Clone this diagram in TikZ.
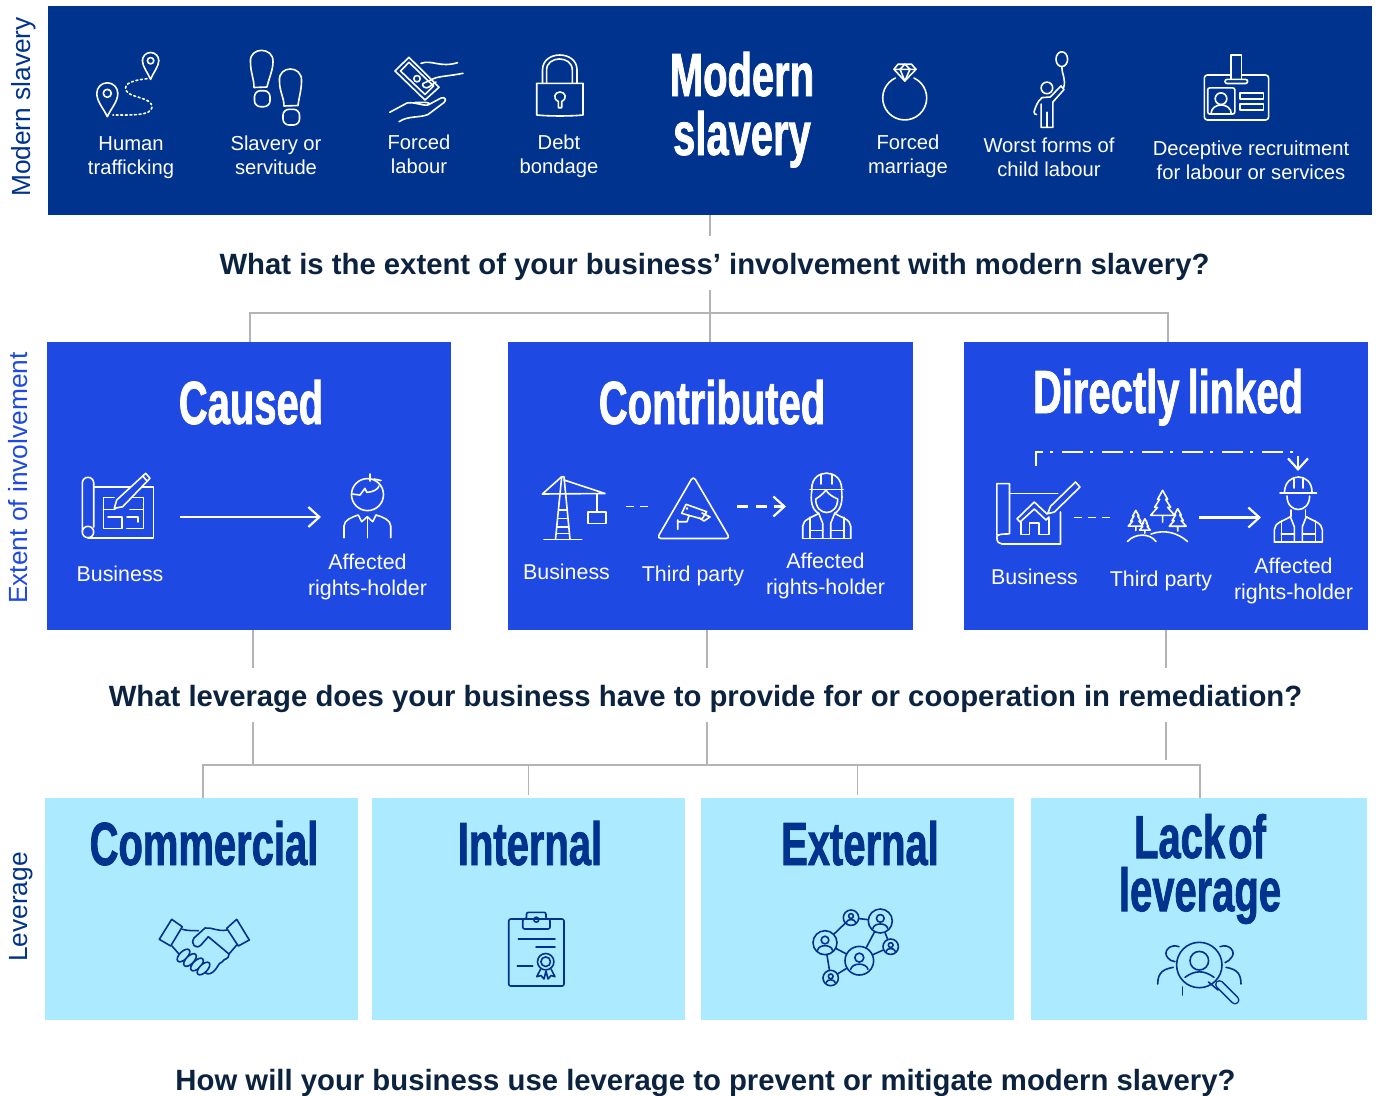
\documentclass[tikz,border=0pt]{standalone}
\usepackage{fontspec}
\setmainfont{Liberation Sans}
\newfontfamily\titlefont[FakeStretch=0.655,BoldFeatures={FakeBold=1.2}]{Liberation Sans}
\usetikzlibrary{arrows.meta}

\definecolor{navy}{HTML}{00338D}
\definecolor{royal}{HTML}{1E49E2}
\definecolor{pale}{HTML}{ACEAFF}
\definecolor{ink}{HTML}{0C233F}
\definecolor{rule}{HTML}{B4B4B4}

\tikzset{
  panel/.style={anchor=north west, inner sep=0pt, outer sep=0pt},
  itemtext/.style={text=white, align=center, inner sep=0pt, font=\fontsize{20.2}{24.2}\selectfont},
  flowtext/.style={text=white, align=center, inner sep=0pt, font=\fontsize{21.4}{26.4}\selectfont},
  bigtitle/.style={anchor=base, inner sep=0pt, font=\titlefont\bfseries\fontsize{61}{53}\selectfont},
  question/.style={fill=white, text=ink, inner sep=0pt, text height=33pt, text depth=10pt, minimum height=54pt, font=\bfseries\fontsize{29.3}{34}\selectfont},
  sidetext/.style={rotate=90, inner sep=0pt, font=\fontsize{26.3}{30}\selectfont},
  link/.style={draw=rule, line width=1.2pt},
  iconw/.style={draw=white, line width=1.6pt, line join=round, line cap=round},
  icond/.style={draw=navy, line width=1.6pt, line join=round, line cap=round},
  flowarrow/.style={draw=white, line width=2.2pt, -{Straight Barb[length=11pt,width=20pt]}},
  flowdash/.style={draw=white, line width=1.7pt, dash pattern=on 8pt off 6pt},
  pics/worker/.style={code={
    % body and vest, origin at the bottom middle
    \draw[iconw] (-24,0) -- (-24,-12) .. controls (-24,-19) and (-14,-21) .. (-8,-25) -- (-4,-15) -- (-4,0);
    \draw[iconw] (24,0) -- (24,-12) .. controls (24,-19) and (14,-21) .. (8,-25) -- (4,-15) -- (4,0);
    \draw[iconw] (-24,0) -- (24,0) (-17,0) -- (-17,-21) (17,0) -- (17,-21);
    \draw[iconw] (-17,-8) -- (-4,-8) (4,-8) -- (17,-8);
  }},
  pics/tree/.style={code={
    \draw[iconw, fill=royal] (0,0) -- (-5,9) -- (-3,9) -- (-8,17) -- (-5,17) -- (-12,25) -- (12,25)
      -- (5,17) -- (8,17) -- (3,9) -- (5,9) -- cycle (0,25) -- (0,32);
  }},
  pics/netperson/.style={code={
    \draw[icond] (0,-#1*0.22) circle [radius=#1*0.32];
    \draw[icond] (-#1*0.62,#1*0.62) .. controls (-#1*0.5,#1*0.12) and (#1*0.5,#1*0.12) .. (#1*0.62,#1*0.62);
  }},
}

\begin{document}
\begin{tikzpicture}[x=1pt,y=-1pt]
\useasboundingbox (0,0) rectangle (1376,1095);

% Panels
\node[panel, fill=navy, minimum width=1324pt, minimum height=209pt] (slavery) at (48,6) {};
\node[panel, fill=royal, minimum width=404pt, minimum height=288pt] (caused) at (47,342) {};
\node[panel, fill=royal, minimum width=405pt, minimum height=288pt] (contrib) at (508,342) {};
\node[panel, fill=royal, minimum width=404pt, minimum height=288pt] (direct) at (964,342) {};
\node[panel, fill=pale, minimum width=313pt, minimum height=222pt] (commercial) at (45,798) {};
\node[panel, fill=pale, minimum width=313pt, minimum height=222pt] (internal) at (372,798) {};
\node[panel, fill=pale, minimum width=313pt, minimum height=222pt] (external) at (701,798) {};
\node[panel, fill=pale, minimum width=336pt, minimum height=222pt] (lack) at (1031,798) {};

% Grey tree lines
\coordinate (busa) at (710,313);
\coordinate (busb) at (707,765);
\draw[link] (slavery.south) -- (slavery.south |- contrib.north);
\draw[link] ([xshift=1pt]caused.north) |- (busa);
\draw[link] ([xshift=2pt]direct.north) |- (busa);
\draw[link] ([xshift=4pt]caused.south) -- ++(0,135);
\draw[link] ([xshift=-3.5pt]contrib.south) -- (busb);
\draw[link] (direct.south) -- ++(0,130);
\draw[link] ([xshift=1.5pt]commercial.north) |- (busb);
\draw[link] ([xshift=1pt]lack.north) |- (busb);
\draw[link] ([yshift=3pt]internal.north) -- ([yshift=33pt]internal.north);
\draw[link] ([yshift=3pt]external.north) -- ([yshift=33pt]external.north);

% Questions
\node[question] (qone) at (714.5,263) {What is the extent of your business’ involvement with modern slavery?};
\node[question] (qtwo) at (705.5,695) {What leverage does your business have to provide for or cooperation in remediation?};
\node[question, minimum height=0pt] (qthree) at (705.5,1079) {How will your business use leverage to prevent or mitigate modern slavery?};

% Side labels
\node[sidetext, text=navy] (sidea) at (24,107) {Modern slavery};
\node[sidetext, text=royal] (sideb) at (18,478) {Extent of involvement};
\node[sidetext, text=navy] (sidec) at (21,907) {Leverage};

% Big titles
\node[bigtitle, text=white] (tmodern) at (742,96) {Modern};
\node[bigtitle, text=white] (tslavery) at (742,155) {slavery};
\node[bigtitle, text=white] (tcaused) at (251,424) {Caused};
\node[bigtitle, text=white] (tcontrib) at (712,424) {Contributed};
\node[bigtitle, text=white] (tdirect) at (1168,413) {Directly\hspace{-3pt} linked};
\node[bigtitle, text=navy] (tcomm) at (204,865) {Commercial};
\node[bigtitle, text=navy] (tint) at (530,865) {Internal};
\node[bigtitle, text=navy] (texternal) at (860,865) {External};
\node[bigtitle, text=navy, anchor=center, align=center] (tlack) at (1200,869) {Lack\hspace{-8pt} of\\leverage};

% Top row texts
\node[itemtext] (ia) at (131,158) {Human\\trafficking};
\node[itemtext] (ib) at (276,155) {Slavery or\\servitude};
\node[itemtext] (ic) at (419,154) {Forced\\labour};
\node[itemtext] (id) at (559,156) {Debt\\bondage};
\node[itemtext] (ie) at (908,156) {Forced\\marriage};
\node[itemtext] (if) at (1049,157) {Worst forms of\\child labour};
\node[itemtext] (ig) at (1251,160) {Deceptive recruitment\\for labour or services};

% Flow texts
\node[flowtext] (fa) at (120,574) {Business};
\node[flowtext] (fb) at (367.5,577) {Affected\\rights-holder};
\node[flowtext] (fc) at (566.5,572) {Business};
\node[flowtext] (fd) at (693,576) {Third party};
\node[flowtext] (fe) at (825.5,576) {Affected\\rights-holder};
\node[flowtext] (ff) at (1034.5,577) {Business};
\node[flowtext] (fg) at (1161,581) {Third party};
\node[flowtext] (fh) at (1293.5,581) {Affected\\rights-holder};

% Flow arrows
\coordinate (ca) at (180,517);
\coordinate (cb) at (321,517);
\draw[flowarrow] (ca) -- (cb);
\coordinate (da) at (626,506.5);
\coordinate (db) at (648,506.5);
\draw[flowdash] (da) -- (db);
\coordinate (dc) at (737,506.5);
\coordinate (dd) at (786,506.5);
\draw[flowarrow, dash pattern=on 11pt off 7.5pt] (dc) -- (dd);
\coordinate (ea) at (1074,517.5);
\coordinate (eb) at (1110,517.5);
\draw[flowdash] (ea) -- (eb);
\coordinate (ec) at (1199,517.5);
\coordinate (ed) at (1261,517.5);
\draw[flowarrow] (ec) -- (ed);
\coordinate (ee) at (1036,466);
\coordinate (ef) at (1298,471);
\draw[draw=white, line width=2pt, dash pattern=on 21pt off 7pt on 3pt off 9pt] (ee) |- (1298,452);
\draw[flowarrow] (1298,456) -- (ef);

% Human trafficking icon
\draw[iconw] (107.3,116.7) .. controls (104,109) and (96.8,102) .. (96.8,93.3) arc [start angle=180, end angle=360, radius=10.5]
  .. controls (117.8,102) and (110.6,109) .. cycle;
\draw[iconw] (107.3,93.3) circle [radius=4];
\draw[iconw] (150.6,79.3) .. controls (148,73) and (142.4,66.5) .. (142.4,60.7) arc [start angle=180, end angle=360, radius=8.2]
  .. controls (158.8,66.5) and (153,73) .. cycle;
\draw[iconw] (150.6,60.7) circle [radius=3.2];
\draw[iconw, dash pattern=on 2pt off 2.6pt] (147,78.7) .. controls (135,80) and (122,83) .. (126.5,91)
  .. controls (130,98) and (152,97) .. (152,107) .. controls (152,116) and (130,115) .. (113,115);

% Footprints icon
\draw[iconw] (250.5,62) .. controls (249,46.5) and (274,46.5) .. (273,62) .. controls (273,70) and (269,78) .. (267,87)
  -- (254,87.5) .. controls (254,78) and (250.5,73) .. (250.5,62);
\draw[iconw, rounded corners=6pt] (254.5,90.7) -- (270,90.7) -- (270,106.7) -- (254.5,106.7) -- cycle;
\draw[iconw] (279.5,81) .. controls (278,65) and (302.5,65) .. (301.5,81) .. controls (301.5,90) and (299,97) .. (298,105.5)
  -- (284,106) .. controls (284,97) and (279.5,92) .. (279.5,81);
\draw[iconw, rounded corners=6pt] (283,109.3) -- (299.5,109.3) -- (299.5,125) -- (283,125) -- cycle;

% Money in hand icon
\draw[iconw] (408.9,57.3) -- (395,71) -- (425,100) -- (439,87.3) -- cycle;
\draw[iconw] (409,62.3) -- (400.5,71) -- (425,94.5) -- (433.5,86) -- cycle;
\draw[iconw] (417,78.7) circle [radius=3.2];
\draw[iconw] (421,63.3) .. controls (432,59.5) and (440,68) .. (457.5,62.7);
\draw[iconw] (463,73.3) .. controls (450,76) and (440,76) .. (434,78.5) -- (423,83.5) .. controls (421,86) and (426,89.5) .. (429,87) -- (436,82);
\draw[iconw] (389.7,112.3) -- (407,103) .. controls (415,101.5) and (425,107) .. (429,104.5) .. controls (431,102.5) and (426,102) .. (415,102.5);
\draw[iconw] (429,104.5) -- (441,98) .. controls (445,96.5) and (447,100) .. (444,102.5) -- (428,114.5)
  .. controls (420,118) and (408,115.5) .. (399,121.7);

% Padlock icon
\draw[iconw] (536.7,83.3) -- (583,83.3) -- (583,115) .. controls (570,116.3) and (550,116.3) .. (536.7,115) -- cycle;
\draw[iconw] (542.5,83.3) -- (542.5,70) .. controls (542.5,50) and (577,50) .. (577,70) -- (577,83.3);
\draw[iconw] (546.6,83.3) -- (546.6,70) .. controls (546.6,55.3) and (572.3,55.3) .. (572.3,70) -- (572.3,83.3);
\draw[iconw] (558.3,107.7) -- (558.3,101.5) .. controls (552,98) and (555,92) .. (560,92)
  .. controls (565,92) and (568,98) .. (561.7,101.5) -- (561.7,107.7) -- cycle;

% Ring icon
\begin{scope}[yshift=1pt]
\draw[iconw] (914,79) arc [start angle=-65, end angle=245, radius=22];
\draw[iconw] (898,65.2) -- (911.5,65.2) -- (916,70.3) -- (904.8,82) -- (894,70.3) -- cycle;
\draw[iconw] (894,70.3) -- (916,70.3) (900,70.3) -- (904.8,82) -- (910,70.3) (900,70.3) -- (904.8,65.2) -- (910,70.3);
\end{scope}

% Child with balloon icon
\begin{scope}[xshift=-1.5pt, yshift=1pt]
\draw[iconw] (1063.3,60.2) ellipse [x radius=5.8, y radius=7.4];
\draw[iconw] (1063.3,67.6) .. controls (1063,75) and (1068,80) .. (1065,89);
\draw[iconw] (1048.4,88.9) circle [radius=5.8];
\draw[iconw] (1062.5,87) -- (1051.7,98) -- (1043.5,98.6) .. controls (1039,102) and (1037,108) .. (1035.5,113)
  .. controls (1035.5,115) and (1037,115.5) .. (1038,115.5);
\draw[iconw] (1042.6,105) -- (1042.6,128.4) -- (1054.4,128.4) -- (1054.4,103) -- (1065.5,90.5) -- (1062.5,87);
\draw[iconw] (1048.4,113.2) -- (1048.4,128.4);
\end{scope}

% ID card icon
\begin{scope}[xshift=-3pt, yshift=1pt]
\draw[iconw, rounded corners=3pt] (1207.3,76) rectangle (1271.6,121);
\draw[iconw, fill=navy] (1234.2,55.7) rectangle (1244.4,81);
\draw[iconw, fill=navy, rounded corners=2pt] (1228,80.4) rectangle (1250.6,84.5);
\draw[iconw, rounded corners=2pt] (1210.7,88.9) -- (1237.8,88.9) -- (1237.8,115) -- (1210.7,115) -- cycle;
\draw[iconw] (1224,99.7) circle [radius=5.8];
\draw[iconw] (1214,115) .. controls (1214,103) and (1234.3,103) .. (1234.3,115);
\draw[iconw] (1242.8,94) rectangle (1266.5,100) (1242.8,104.8) rectangle (1266.5,110.8);
\end{scope}

% Blueprint icon
\draw[iconw] (82.3,532) -- (82.3,483) arc [start angle=180, end angle=360, radius=5.7] -- (93.7,527);
\draw[iconw] (88,532) circle [radius=5.7];
\draw[iconw] (93.7,486.7) -- (153.3,486.7) -- (153.3,537.7) -- (88,537.7);
\draw[iconw] (114,497.3) -- (103.3,497.3) -- (103.3,528.3) -- (121.7,528.3) -- (121.7,516.7) -- (108,516.7);
\draw[iconw] (103.3,509.3) -- (115,509.3);
\draw[iconw] (128,497.3) -- (143.3,497.3) -- (143.3,528.3) -- (126.7,528.3);
\draw[iconw] (130,509.3) -- (143.3,509.3) (127,516.7) -- (138,516.7) -- (138,522);
\draw[iconw, fill=royal] (114.3,508.3) -- (116.7,500) -- (145.7,473.3) -- (150,478.3) -- (122.7,506.7) -- cycle;
\draw[iconw] (142.7,476) -- (147,481);

% Person icon
\draw[iconw] (367.5,494.6) circle [radius=16];
\draw[iconw] (351.7,494) -- (360,495) -- (365,488.3) -- (366.7,492.3) .. controls (374,492) and (378,489) .. (379,486);
\draw[iconw] (370,481) -- (370,474) (374,479) -- (381,480.5);
\draw[iconw] (344,537.7) -- (344,526) .. controls (344,520) and (352,517) .. (358.3,515) -- (361.7,521.7) -- (367.3,516.7)
  -- (372.7,521.7) -- (376,515) .. controls (383,517) and (390.7,520) .. (390.7,526) -- (390.7,537.7);
\draw[iconw] (367.3,516.7) -- (367.3,537.7);

% Crane icon
\draw[iconw] (544,539.3) -- (581.7,539.3);
\draw[iconw] (555.5,539.3) -- (561.7,476.7) -- (564,476.7) -- (570,539.3);
\draw[iconw] (542.3,494) -- (561.7,476.7) (564,480) -- (605,493.5) -- (542.3,494);
\foreach \yy/\ww in {510/4.2, 518.3/5, 526.7/5.9, 533.3/6.6}
  \draw[iconw] (562.8-\ww,\yy) -- (562.8+\ww,\yy);
\draw[iconw] (596.7,494) -- (596.7,511.7);
\draw[iconw] (587.7,511.7) rectangle (605.7,523.3);

% Camera sign icon
\draw[iconw, rounded corners=4pt] (693.3,476) -- (657,538.5) -- (730,538.5) -- cycle;
\draw[iconw] (686,504.3) -- (706.7,511.7) -- (702,519) -- (681.7,513.3) -- cycle;
\draw[iconw] (702,513) -- (710,517) -- (704,521) -- (699.5,518);
\draw[iconw] (677.7,520) -- (677.7,529.3) (677.7,521.7) -- (687,521.7) -- (689,516);
\draw[iconw] (687,508.5) circle [radius=0.5];

% Woman worker icon
\pic at (826.7,538.3) {worker};
\draw[iconw] (815.7,499) .. controls (815.7,517) and (837.7,517) .. (837.7,499) .. controls (833,497) and (828,494) .. (826,490) .. controls (823,494) and (819,497) .. (815.7,499);
\draw[iconw] (812,489.3) .. controls (810,501) and (812,510) .. (818.7,513.3) (841.5,489.3) .. controls (843,501) and (841,510) .. (834.7,513.3);
\draw[iconw] (811.7,488.5) .. controls (812,468) and (841,468) .. (841.7,488.5);
\draw[iconw] (810,489.3) -- (843.3,489.3);
\draw[iconw] (821,475) -- (821,484) (832,475) -- (832,484);

% House blueprint icon
\draw[iconw] (996.8,535) -- (996.8,483.6) -- (1009.5,483.6) -- (1009.5,533.9) .. controls (1003,534) and (996.8,534) .. (996.8,537) .. controls (996.8,542) and (999,544) .. (1002,544) -- (1060.5,544) -- (1060.5,512);
\draw[iconw] (1009.5,493.6) -- (1057.8,493.6);
\draw[iconw] (1017,518.8) -- (1034.3,502) -- (1047,514) (1017,518.8) -- (1020,522) -- (1034.3,509) -- (1046,520) -- (1049,517);
\draw[iconw] (1021,522) -- (1021,534.5) -- (1029.6,534.5) -- (1029.6,523) -- (1038.7,523) -- (1038.7,534.5) -- (1048.7,534.5) -- (1048.7,518);
\draw[iconw, fill=royal] (1047.7,513.7) -- (1050.4,506.4) -- (1075.5,482) -- (1080,487) -- (1054.4,512) -- cycle;

% Trees icon
\pic at (1162.6,490.3) {tree};
\pic[scale=0.63] at (1135.8,510.4) {tree};
\pic[scale=0.45] at (1144.9,518.8) {tree};
\pic[scale=0.7] at (1177.7,508.7) {tree};
\draw[iconw] (1127.5,541.5) .. controls (1135,533) and (1150,533) .. (1156,541.5);
\draw[iconw] (1151,534) .. controls (1165,529) and (1178,533) .. (1187.5,541.5);

% Male worker icon
\pic at (1298.3,541.7) {worker};
\draw[iconw] (1287,496) .. controls (1287,514) and (1309.6,514) .. (1309.6,496);
\draw[iconw] (1291,510) -- (1291,516.5) (1305.6,510) -- (1305.6,516.5);
\draw[iconw] (1284.5,492) .. controls (1285,472) and (1312,472) .. (1312,492);
\draw[iconw] (1280,493) -- (1316.5,493);
\draw[iconw] (1294,479) -- (1294,488) (1303,479) -- (1303,488);

% Handshake icon
\draw[icond] (171.7,919.3) -- (182.3,926.7) -- (170.7,946) -- (159.3,939.3) -- cycle;
\draw[icond] (236.7,919.3) -- (249.3,940) -- (238.3,946) -- (226.7,928.3) -- cycle;
\draw[icond] (182.3,929.3) .. controls (188,931) and (194,930.5) .. (198.3,930.7);
\draw[icond] (226.7,930) .. controls (218,932) and (212,927) .. (205,928) -- (194,938) .. controls (190,944) and (196,950) .. (201,945) -- (208.3,936.7) -- (229,954);
\draw[icond] (236.7,945) -- (229,954) .. controls (229,960) and (224,958) .. (222,962) .. controls (218,963) and (218,968) .. (213,972) .. controls (209,975) and (206,974) .. (204,972);
\draw[icond] (172,946) -- (179,954);
\foreach \xx/\yy in {183.5/955.5, 190/960, 197/964.5, 203.5/968.5}
  \draw[icond, fill=pale] (\xx,\yy) circle [x radius=8, y radius=4, rotate=45];

% Clipboard icon
\draw[icond, rounded corners=2pt] (508.7,919) rectangle (564,986);
\draw[icond, rounded corners=2pt] (522.7,919) -- (522.7,929) -- (550,929) -- (550,919) -- (546,919) -- (546,912.3) -- (526.5,912.3) -- (526.5,919) -- cycle;
\draw[icond] (536.3,919.7) circle [radius=2.5];
\draw[icond] (518.3,938.7) -- (555,938.7) (536,947) -- (555,947) (517.3,966) -- (532.7,966);
\draw[icond] (545.7,961.7) circle [radius=8.2] (545.7,961.7) circle [radius=4.8];
\draw[icond] (540.7,969) -- (536.7,976.7) -- (541,975.5) -- (544,979) -- (546,971) -- (548,979) -- (551,975.5) -- (555,976.7) -- (551,969);

% Network icon
\tikzset{netnode/.style={draw=navy, line width=1.6pt, circle, inner sep=0pt, outer sep=0pt}}
\node[netnode, minimum size=28.6pt] (neta) at (859.3,960.7) {};
\node[netnode, minimum size=24pt] (netb) at (825,942.7) {};
\node[netnode, minimum size=24pt] (netc) at (880.3,921) {};
\node[netnode, minimum size=15.4pt] (netd) at (851,917.7) {};
\node[netnode, minimum size=15.4pt] (nete) at (890.7,946.7) {};
\node[netnode, minimum size=15.4pt] (netf) at (830.7,978) {};
\foreach \na/\nb in {netb/netd, netd/netc, netc/neta, netc/nete, nete/neta, netb/neta, netb/netf, netf/neta}
  \draw[icond, line cap=butt] (\na) -- (\nb);
\pic at (859.3,960.7) {netperson={14}};
\pic at (825,942.7) {netperson={12}};
\pic at (880.3,921) {netperson={12}};
\pic at (851,917.7) {netperson={7.5}};
\pic at (890.7,946.7) {netperson={7.5}};
\pic at (830.7,978) {netperson={7.5}};

% Magnifier icon
\draw[icond] (1199.3,965) circle [radius=22.7];
\draw[icond] (1199.3,960.7) circle [radius=9.3];
\draw[icond] (1185,977.3) .. controls (1195,970) and (1204,970) .. (1214,977.3);
\draw[icond] (1208.5,982) -- (1218,990);
\draw[draw=navy, line width=9pt, line cap=round] (1219.5,984.5) -- (1235,1000);
\draw[draw=pale, line width=6pt, line cap=round] (1219.5,984.5) -- (1235,1000);
\draw[icond] (1179,946.7) .. controls (1170,943) and (1162,952) .. (1168,958) .. controls (1169,960) and (1172,961) .. (1175,961.7);
\draw[icond] (1220,946.7) .. controls (1229,943) and (1237,952) .. (1231,958) .. controls (1230,960) and (1228,961) .. (1225,962.7);
\draw[icond] (1173.3,967.3) .. controls (1165,969) and (1157.7,971) .. (1157.7,984);
\draw[icond] (1226,967.3) .. controls (1234,969) and (1241,971) .. (1241,984);
\draw[icond] (1182.3,995) -- (1182.3,987);

\end{tikzpicture}
\end{document}
